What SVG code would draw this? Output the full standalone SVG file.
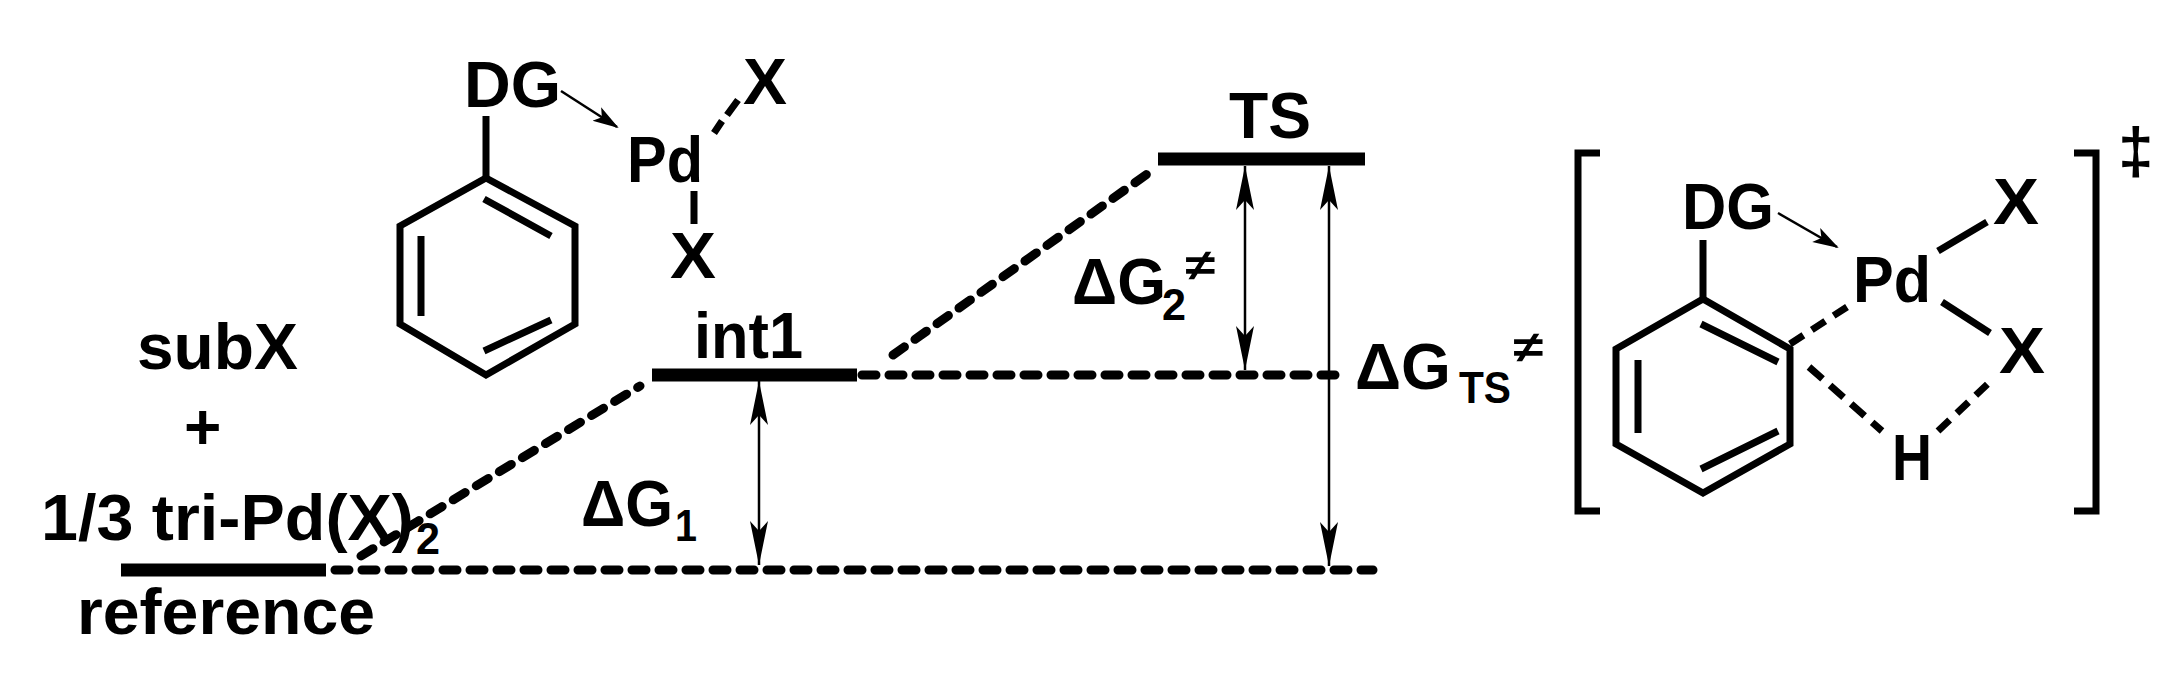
<svg xmlns="http://www.w3.org/2000/svg" width="2174" height="697" viewBox="0 0 2174 697">
<style>
text{font-family:"Liberation Sans",Arial,sans-serif;font-weight:bold;fill:#000}
.t{font-size:64px}
.s{font-size:44px}
.b{stroke:#000;stroke-width:7;fill:none;stroke-linecap:butt}
.d{stroke:#000;stroke-width:9;fill:none;stroke-dasharray:14 13;stroke-linecap:round}
.bar{stroke:#000;stroke-width:13}
.a{stroke:#000;stroke-width:2.5;fill:none}
</style>
<defs>
<marker id="ah" viewBox="0 0 44 20" refX="44" refY="10" markerWidth="44" markerHeight="20" markerUnits="userSpaceOnUse" orient="auto-start-reverse">
<path d="M0,1 L44,10 L0,19 L10,10 Z" fill="#000"/>
</marker>
<marker id="sh" viewBox="0 0 26 20" refX="24" refY="10" markerWidth="26" markerHeight="20" markerUnits="userSpaceOnUse" orient="auto">
<path d="M0,2 L26,10 L0,18 L6,10 Z" fill="#000"/>
</marker>
</defs>
<g id="connectors">
<path class="d" d="M335,570 L1373,570"/>
<path class="d" d="M862,375 L1345,375"/>
<path class="d" d="M361,556 L640,386"/>
<path class="d" d="M893,355 L1150,172"/>
<path class="a" d="M759,381 L759,565" marker-start="url(#ah)" marker-end="url(#ah)"/>
<path class="a" d="M1245,166 L1245,370" marker-start="url(#ah)" marker-end="url(#ah)"/>
<path class="a" d="M1329,166 L1329,566" marker-start="url(#ah)" marker-end="url(#ah)"/>
</g>
<g id="reference">
<line class="bar" x1="121" y1="570" x2="326" y2="570"/>
<text class="t" x="137" y="369" textLength="161" lengthAdjust="spacingAndGlyphs">subX</text>
<text class="t" x="184" y="449">+</text>
<text class="t" x="41" y="540" textLength="373" lengthAdjust="spacingAndGlyphs">1/3 tri-Pd(X)</text>
<text class="s" x="416" y="554" textLength="24" lengthAdjust="spacingAndGlyphs">2</text>
<text class="t" x="77" y="634" textLength="298" lengthAdjust="spacingAndGlyphs">reference</text>
</g>
<g id="int1">
<line class="bar" x1="652" y1="375" x2="857" y2="375"/>
<text class="t" x="694" y="358" textLength="109" lengthAdjust="spacingAndGlyphs">int1</text>
</g>
<g id="TS">
<line class="bar" x1="1158" y1="159" x2="1365" y2="159"/>
<text class="t" x="1229" y="138" textLength="82" lengthAdjust="spacingAndGlyphs">TS</text>
</g>
<g id="labels">
<text class="t" x="581" y="526" textLength="92" lengthAdjust="spacingAndGlyphs">ΔG</text>
<text class="s" x="675" y="541" textLength="22" lengthAdjust="spacingAndGlyphs">1</text>
<text class="t" x="1072" y="304" textLength="94" lengthAdjust="spacingAndGlyphs">ΔG</text>
<text class="s" x="1162" y="320" textLength="24" lengthAdjust="spacingAndGlyphs">2</text>
<text class="s" x="1185" y="280" textLength="30" lengthAdjust="spacingAndGlyphs">≠</text>
<text class="t" x="1355" y="389" textLength="96" lengthAdjust="spacingAndGlyphs">ΔG</text>
<text class="s" x="1459" y="403" textLength="52" lengthAdjust="spacingAndGlyphs">TS</text>
<text class="s" x="1513" y="362" textLength="30" lengthAdjust="spacingAndGlyphs">≠</text>
</g>
<g id="int1-structure">
<path class="b" d="M486,116 L486,178"/>
<path class="b" d="M486,178 L575,226 L575,324 L486,375 L400,324 L400,226 Z"/>
<path class="b" d="M484,199 L551,236 M421,236 L421,316 M484,351 L551,320"/>
<text class="t" x="464" y="107" textLength="97" lengthAdjust="spacingAndGlyphs">DG</text>
<text class="t" x="743" y="104" textLength="44" lengthAdjust="spacingAndGlyphs">X</text>
<text class="t" x="627" y="182" textLength="76" lengthAdjust="spacingAndGlyphs">Pd</text>
<text class="t" x="670" y="278" textLength="46" lengthAdjust="spacingAndGlyphs">X</text>
<path class="a" d="M561,91 L617,127" marker-end="url(#sh)"/>
<path class="b" d="M714,133 L722,121 M727,115 L738,100"/>
<path class="b" d="M694,191 L694,224"/>
</g>
<g id="TS-structure">
<path class="b" stroke-width="8" d="M1600,153 L1578,153 L1578,511 L1600,511"/>
<path class="b" stroke-width="8" d="M2074,153 L2096,153 L2096,511 L2074,511"/>
<text class="t" x="2118" y="173" font-size="50">‡</text>
<path class="b" d="M1703,240 L1703,299"/>
<path class="b" d="M1703,299 L1790,349 L1790,444 L1703,493 L1616,444 L1616,349 Z"/>
<path class="b" d="M1701,324 L1778,362 M1638,360 L1638,433 M1701,469 L1778,431"/>
<text class="t" x="1682" y="229" textLength="92" lengthAdjust="spacingAndGlyphs">DG</text>
<text class="t" x="1853" y="302" textLength="78" lengthAdjust="spacingAndGlyphs">Pd</text>
<text class="t" x="1993" y="224" textLength="46" lengthAdjust="spacingAndGlyphs">X</text>
<text class="t" x="1999" y="373" textLength="46" lengthAdjust="spacingAndGlyphs">X</text>
<text class="t" x="1892" y="480" textLength="40" lengthAdjust="spacingAndGlyphs">H</text>
<path class="a" d="M1778,213 L1837,247" marker-end="url(#sh)"/>
<path class="b" d="M1938,251 L1987,222"/>
<path class="b" d="M1942,302 L1990,333"/>
<path class="b" stroke-dasharray="16 10" d="M1790,344 L1847,307"/>
<path class="b" stroke-dasharray="18 10" d="M1809,367 L1882,431"/>
<path class="b" stroke-dasharray="16 10" d="M1938,431 L1994,378"/>
</g>
</svg>
